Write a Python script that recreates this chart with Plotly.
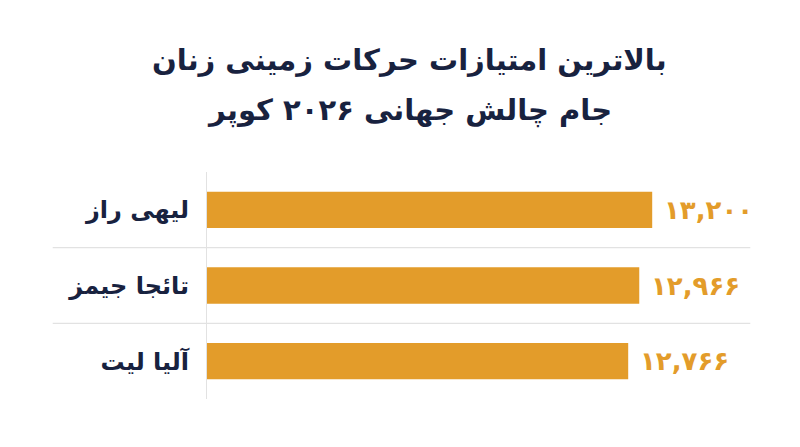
import plotly.graph_objects as go

names = ["لیهی راز", "تائجا جیمز", "آلیا لیت"]
points = [13200, 12966, 12766]
point_labels = ["۱۳,۲۰۰", "۱۲,۹۶۶", "۱۲,۷۶۶"]

title_lines = ["بالاترین امتیازات حرکات زمینی زنان", "جام چالش جهانی ۲۰۲۶ کوپر"]

ORANGE = "#E39C2A"
NAVY = "#18223F"
GRID = "#E2E2E2"
FONT = "DejaVu Sans"

fig = go.Figure()
fig.add_trace(go.Bar(
    x=points, y=names, orientation="h",
    marker=dict(color=ORANGE, line=dict(width=0)),
    width=0.48, hoverinfo="skip",
))

for n, v, t in zip(names, points, point_labels):
    fig.add_annotation(x=v, y=n, text="<b>" + t + "</b>", showarrow=False, xanchor="left",
                       xshift=10, font=dict(family=FONT, size=26, color=ORANGE))

# separators between categories
for yv in [0.5, 1.5]:
    fig.add_shape(type="line", xref="paper", yref="y", x0=-0.274, x1=0.965,
                  y0=yv, y1=yv, line=dict(color=GRID, width=1.2), layer="below")

PLOT_H = 447 - 172 - 48
for i, (line, yc) in enumerate(zip(title_lines, [60, 110])):
    fig.add_annotation(x=(409 - 207) / 563, y=1 + (172 - yc) / PLOT_H,
                       xref="paper", yref="paper", yanchor="middle", xanchor="center",
                       text="<b>" + line + "</b>", showarrow=False,
                       font=dict(family=FONT, size=29, color=NAVY))

fig.update_layout(
    width=800, height=447,
    margin=dict(l=207, r=30, t=172, b=48),
    paper_bgcolor="white", plot_bgcolor="white",
    showlegend=False,
)
fig.update_xaxes(range=[5150, 15330], visible=False, showgrid=False, zeroline=False)
fig.update_yaxes(autorange="reversed", showgrid=False, showline=True, linecolor=GRID,
                 linewidth=1.2, ticks="", ticklabelstandoff=12,
                 tickfont=dict(family=FONT, size=24, color=NAVY, weight="bold"))

fig.write_html("out.html", config={"displayModeBar": False},
               post_script="document.body.style.margin='0';")
